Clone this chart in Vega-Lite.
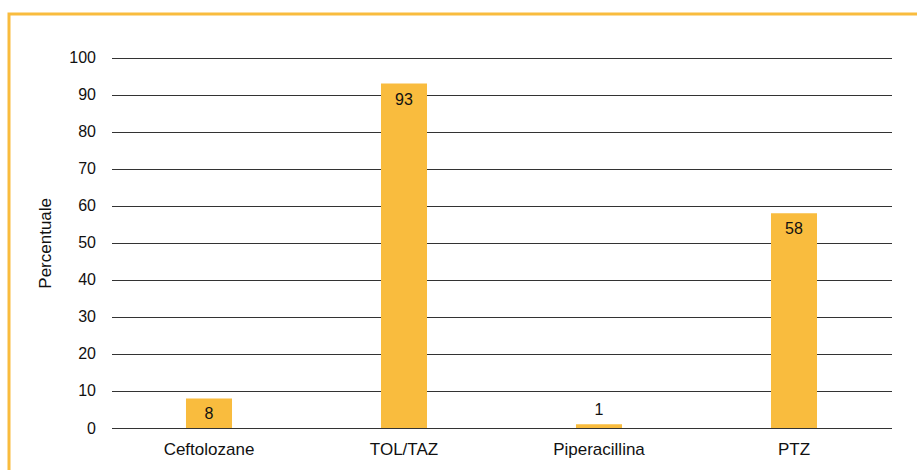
{
  "$schema": "https://vega.github.io/schema/vega-lite/v6.json",
  "autosize": "none",
  "padding": {"left": 9, "top": 14, "right": -12, "bottom": -14},
  "width": 920,
  "height": 470,
  "background": "white",
  "config": {
    "view": {"stroke": "#F9BC3E", "strokeWidth": 3},
    "font": "Liberation Sans"
  },
  "data": {
    "values": [
      {"farmaco": "Ceftolozane", "valore": 8},
      {"farmaco": "TOL/TAZ", "valore": 93},
      {"farmaco": "Piperacillina", "valore": 1},
      {"farmaco": "PTZ", "valore": 58}
    ]
  },
  "encoding": {
    "x": {
      "field": "farmaco",
      "type": "nominal",
      "sort": null,
      "scale": {"range": [102.5, 882.5], "paddingInner": 0.764, "paddingOuter": 0.382},
      "axis": {
        "title": null,
        "orient": "bottom",
        "offset": -56,
        "domain": false,
        "ticks": false,
        "tickSize": 0,
        "grid": false,
        "labelAngle": 0,
        "labelPadding": 13,
        "labelFontSize": 17,
        "labelColor": "#111",
        "labelFont": "Liberation Sans"
      }
    },
    "y": {
      "field": "valore",
      "type": "quantitative",
      "scale": {"domain": [0, 100], "range": [414, 43.7], "nice": false},
      "axis": {
        "title": "Percentuale",
        "titleFontSize": 17,
        "titleFontWeight": "normal",
        "titleColor": "#111",
        "titleFont": "Liberation Sans",
        "titlePadding": 14,
        "offset": -102.5,
        "domain": false,
        "ticks": false,
        "tickSize": 0,
        "values": [0, 10, 20, 30, 40, 50, 60, 70, 80, 90, 100],
        "labelPadding": 16,
        "labelFontSize": 16,
        "labelColor": "#111",
        "labelFont": "Liberation Sans",
        "grid": true,
        "gridColor": "#333",
        "gridWidth": 1.2,
        "gridOpacity": 1
      }
    }
  },
  "layer": [
    {"mark": {"type": "bar", "color": "#F9BC3E"}},
    {
      "transform": [{"filter": "datum.valore >= 5"}],
      "mark": {"type": "text", "baseline": "top", "fontSize": 16, "color": "#111", "dy": 8},
      "encoding": {"text": {"field": "valore", "type": "quantitative"}}
    },
    {
      "transform": [{"filter": "datum.valore < 5"}],
      "mark": {"type": "text", "baseline": "alphabetic", "fontSize": 16, "color": "#111", "dy": -9},
      "encoding": {"text": {"field": "valore", "type": "quantitative"}}
    }
  ]
}
